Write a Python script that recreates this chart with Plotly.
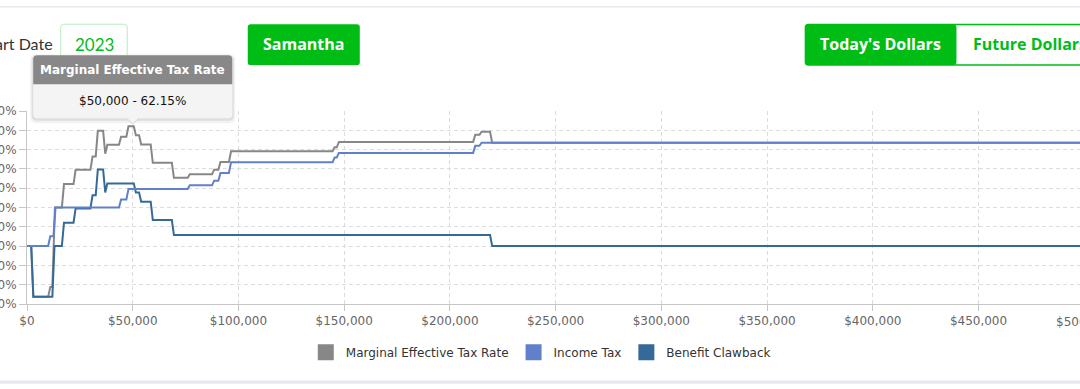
import numpy as np
import plotly.graph_objects as go

# ---------------- data ----------------
series_names = ["Marginal Effective Tax Rate", "Income Tax", "Benefit Clawback"]

metr_income = [0, 2000, 3000, 10000, 11000, 12000, 13200, 16500, 17500, 22000, 23000,
               30000, 31000, 32500, 33500, 36000, 37000, 38000, 43500, 44500, 47000, 48000,
               50000, 50500, 51500, 53000, 54000, 58500, 59500, 68500, 69500, 76000, 77000,
               87500, 88500, 90500, 91500, 95500, 96500, 144500, 145500, 146500, 147500,
               211000, 212000, 214000, 215000, 219000, 220000, 500000]
metr_rate = [0, 0, -26.3, -26.3, -21.25, -21.25, 20.05, 20.05, 32.15, 32.15, 39.55,
             39.55, 46.45, 46.45, 59.75, 59.75, 47.85, 52.55, 52.55, 56.65, 56.65, 62.15,
             62.15, 62.15, 57.45, 57.45, 52.65, 52.65, 43.15, 43.15, 35.35, 35.35, 37.18,
             37.18, 39.59, 39.59, 43.61, 43.61, 49.11, 49.11, 51.2, 51.2, 53.99,
             53.99, 57.67, 57.67, 59.23, 59.23, 53.53, 53.53]

tax_income = [0, 10000, 11000, 12500, 13500, 43500, 44500, 47000, 48000, 76000, 77000,
              87500, 88500, 90500, 91500, 95500, 96500, 144500, 145500, 146500, 147500,
              211000, 212000, 214000, 215000, 500000]
tax_rate = [0, 0, 5.05, 5.05, 20.05, 20.05, 24.15, 24.15, 29.65, 29.65, 31.48,
            31.48, 33.89, 33.89, 37.91, 37.91, 43.41, 43.41, 45.9, 45.9, 48.29,
            48.29, 51.97, 51.97, 53.53, 53.53]

claw_income = [0, 2000, 3000, 12000, 13000, 16500, 17500, 22000, 23000, 30000, 31000,
               32500, 33500, 36000, 37000, 38000, 50500, 51500, 53000, 54000, 58500, 59500,
               68500, 69500, 219000, 220000, 500000]
claw_rate = [0, 0, -26.3, -26.3, 0, 0, 12.1, 12.1, 19.5, 19.5, 26.4,
             26.4, 39.7, 39.7, 27.8, 32.5, 32.5, 27.8, 27.8, 23.0, 23.0, 13.5,
             13.5, 5.7, 5.7, 0, 0]

x_tick_vals = [0, 50000, 100000, 150000, 200000, 250000, 300000, 350000, 400000, 450000, 500000]
x_tick_text = ["$0", "$50,000", "$100,000", "$150,000", "$200,000", "$250,000",
               "$300,000", "$350,000", "$400,000", "$450,000", "$500,000"]
y_tick_vals = [-30, -20, -10, 0, 10, 20, 30, 40, 50, 60, 70]
y_tick_text = ["-30%", "-20%", "-10%", "0%", "10%", "20%", "30%", "40%", "50%", "60%", "70%"]

tooltip_income = 50000
start_year = "2023"
person = "Samantha"
dollar_modes = ["Today's Dollars", "Future Dollars"]

# ---------------- layout geometry ----------------
FW, FH = 1080, 389
ML, MR, MT, MB = 27.3, 0, 110.5, 85
W = FW - ML - MR
PH = FH - MT - MB
XMAX = 498000
YMIN, YMAX = -30, 70

def X(px):
    return (px - ML) / W

def Y(py):
    return (FH - MB - py) / PH

def pt(px, py):
    return f"{X(px):.5f},{Y(py):.5f}"

def rrect(x0, y0, x1, y1, r, top=True, bottom=True):
    rt = r if top else 0
    rb = r if bottom else 0
    p = f"M {pt(x0 + rt, y0)} L {pt(x1 - rt, y0)} "
    if rt:
        p += f"Q {pt(x1, y0)} {pt(x1, y0 + rt)} "
    p += f"L {pt(x1, y1 - rb)} "
    if rb:
        p += f"Q {pt(x1, y1)} {pt(x1 - rb, y1)} "
    p += f"L {pt(x0 + rb, y1)} "
    if rb:
        p += f"Q {pt(x0, y1)} {pt(x0, y1 - rb)} "
    p += f"L {pt(x0, y0 + rt)} "
    if rt:
        p += f"Q {pt(x0, y0)} {pt(x0 + rt, y0)} "
    return p + "Z"

colors = ["#878787", "#6080cc", "#356a98"]
GREEN = "#00bd15"
FONT = "DejaVu Sans"
UI = "Lato"
BTN = "Open Sans"

fig = go.Figure()
fig.add_trace(go.Scatter(x=metr_income, y=metr_rate, mode="lines", line=dict(color=colors[0], width=2),
                         showlegend=False, hoverinfo="skip"))
fig.add_trace(go.Scatter(x=claw_income, y=claw_rate, mode="lines", line=dict(color=colors[2], width=2),
                         showlegend=False, hoverinfo="skip"))
fig.add_trace(go.Scatter(x=tax_income, y=tax_rate, mode="lines", line=dict(color=colors[1], width=2),
                         showlegend=False, hoverinfo="skip"))
for n, c in zip(series_names, colors):
    fig.add_trace(go.Scatter(x=[None], y=[None], mode="markers", name=n,
                             marker=dict(symbol="square", size=16, color=c)))

shapes = []
annotations = []

# top border and bottom band
shapes.append(dict(type="line", xref="paper", yref="paper", x0=X(0), x1=X(FW), y0=Y(6), y1=Y(6),
                   line=dict(color="#e3e7ee", width=1.5), layer="above"))
shapes.append(dict(type="rect", xref="paper", yref="paper", x0=X(0), x1=X(FW), y0=Y(380.8), y1=Y(384),
                   fillcolor="#e8e8ee", line=dict(width=0), layer="above"))

# Start date
annotations.append(dict(xref="paper", yref="paper", x=X(55), y=Y(43), xanchor="right", yanchor="middle",
                        text="Start Date", showarrow=False, font=dict(family=UI, size=16, color="#333333")))
shapes.append(dict(type="path", xref="paper", yref="paper", path=rrect(61, 23.5, 127.5, 63, 3),
                   fillcolor="white", line=dict(color="#b9ecbf", width=1), layer="above"))
annotations.append(dict(xref="paper", yref="paper", x=X(94.3), y=Y(43.5), xanchor="center", yanchor="middle",
                        text=start_year, showarrow=False, font=dict(family=UI, size=17, color=GREEN)))

# Samantha button
shapes.append(dict(type="path", xref="paper", yref="paper", path=rrect(248, 23.5, 360, 64.5, 3),
                   fillcolor=GREEN, line=dict(width=0), layer="above"))
annotations.append(dict(xref="paper", yref="paper", x=X(304), y=Y(43.5), xanchor="center", yanchor="middle",
                        text=person, showarrow=False, font=dict(family=BTN, size=16, color="white", weight=700)))

# Dollar toggle
shapes.append(dict(type="path", xref="paper", yref="paper", path=rrect(805.5, 23.8, 1100, 64.3, 3),
                   fillcolor="white", line=dict(color=GREEN, width=1.5), layer="above"))
shapes.append(dict(type="path", xref="paper", yref="paper", path=rrect(805.5, 23.8, 956.5, 64.3, 3),
                   fillcolor=GREEN, line=dict(width=0), layer="above"))
annotations.append(dict(xref="paper", yref="paper", x=X(880.5), y=Y(43.5), xanchor="center", yanchor="middle",
                        text=dollar_modes[0], showarrow=False, font=dict(family=BTN, size=16, color="white", weight=700)))
annotations.append(dict(xref="paper", yref="paper", x=X(971), y=Y(43.5), xanchor="left", yanchor="middle",
                        text=dollar_modes[1], showarrow=False, font=dict(family=BTN, size=16, color=GREEN, weight=700)))

# last tick label lies just past the visible range (cropped at the edge), placed via the axis scale
annotations.append(dict(xref="paper", yref="paper", x=x_tick_vals[-1] / XMAX, y=Y(322), xanchor="center",
                        yanchor="middle", text=x_tick_text[-1], showarrow=False,
                        font=dict(family=FONT, size=12, color="#666666")))

# tooltip anchored on the data point
tip_val = float(np.interp(tooltip_income, metr_income, metr_rate))
tpx = ML + tooltip_income / XMAX * W
tpy = MT + (YMAX - tip_val) / (YMAX - YMIN) * PH
bx0, bx1 = tpx - 99.5, tpx + 99.5
by1 = tpy - 8
by0 = by1 - 63
hy = by0 + 29
shapes.append(dict(type="path", xref="paper", yref="paper", path=rrect(bx0 - 3, by0 - 1, bx1 + 3, by1 + 5, 6),
                   fillcolor="rgba(0,0,0,0.05)", line=dict(width=0), layer="above"))
shapes.append(dict(type="path", xref="paper", yref="paper", path=rrect(bx0 - 1.5, by0, bx1 + 1.5, by1 + 2.5, 5),
                   fillcolor="rgba(0,0,0,0.08)", line=dict(width=0), layer="above"))
shapes.append(dict(type="path", xref="paper", yref="paper",
                   path=f"M {pt(tpx - 7, by1 - 1)} L {pt(tpx, tpy - 2)} L {pt(tpx + 7, by1 - 1)} Z",
                   fillcolor="#f4f4f4", line=dict(color="#d4d4d4", width=1), layer="above"))
shapes.append(dict(type="path", xref="paper", yref="paper", path=rrect(bx0, by0, bx1, by1, 4),
                   fillcolor="#f4f4f4", line=dict(width=0), layer="above"))
shapes.append(dict(type="path", xref="paper", yref="paper", path=rrect(bx0, by0, bx1, hy, 4, bottom=False),
                   fillcolor="#888888", line=dict(width=0), layer="above"))
annotations.append(dict(xref="paper", yref="paper", x=X(tpx), y=Y((by0 + hy) / 2), xanchor="center",
                        yanchor="middle", text=series_names[0], showarrow=False,
                        font=dict(family=FONT, size=12, color="white", weight=700)))
annotations.append(dict(xref="paper", yref="paper", x=X(tpx), y=Y((hy + by1) / 2), xanchor="center",
                        yanchor="middle", text=f"${tooltip_income:,} - {tip_val:.2f}%", showarrow=False,
                        font=dict(family=FONT, size=12, color="#111111")))

axis_common = dict(showgrid=True, gridcolor="#dcdcdc", griddash="4px,3px", gridwidth=1,
                   showline=True, linecolor="#c6c6c6", linewidth=1, ticks="outside",
                   tickcolor="#c6c6c6", zeroline=False, automargin=False,
                   tickfont=dict(family=FONT, size=12, color="#666666"))

fig.update_layout(
    width=FW, height=FH,
    margin=dict(l=ML, r=MR, t=MT, b=MB, pad=0),
    paper_bgcolor="white", plot_bgcolor="white",
    font=dict(family=FONT, size=12, color="#333333"),
    xaxis=dict(range=[0, XMAX], tickvals=x_tick_vals, ticktext=x_tick_text, ticklen=6, **axis_common),
    yaxis=dict(range=[YMIN, YMAX], tickvals=y_tick_vals, ticktext=y_tick_text, ticklen=7, **axis_common),
    legend=dict(orientation="h", x=X(306), y=Y(352.5), xanchor="left", yanchor="middle",
                font=dict(family=FONT, size=12, color="#333333"), bgcolor="rgba(0,0,0,0)",
                itemclick=False, itemdoubleclick=False),
    shapes=shapes, annotations=annotations,
    showlegend=True, hovermode=False,
)

fig.write_html("out.html", config={"displayModeBar": False},
               post_script="document.body.style.margin='0';document.body.style.overflow='hidden';")
